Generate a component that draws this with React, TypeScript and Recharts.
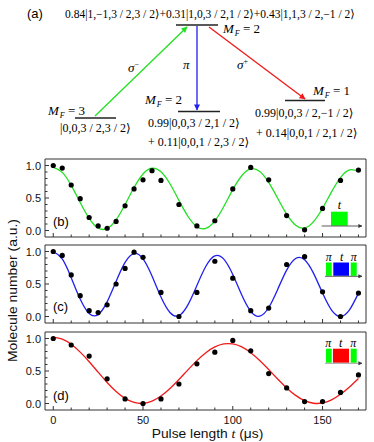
import React from "react";
import { ComposedChart, Line, Scatter, XAxis, YAxis, ReferenceArea } from "recharts";

const fitTimes = [0, 5, 10, 15, 20, 25, 30, 35, 40, 45, 50, 55, 60, 65, 70, 75, 80, 85, 90, 95, 100, 105, 110, 115, 120, 125, 130, 135, 140, 145, 150, 155, 160, 165, 170];
const fitB = [0.97, 0.894, 0.694, 0.431, 0.187, 0.038, 0.03, 0.164, 0.4, 0.661, 0.87, 0.959, 0.903, 0.719, 0.464, 0.219, 0.058, 0.032, 0.148, 0.37, 0.628, 0.842, 0.947, 0.909, 0.741, 0.496, 0.251, 0.08, 0.038, 0.136, 0.342, 0.595, 0.814, 0.932, 0.912];
const fitC = [1.0, 0.885, 0.597, 0.268, 0.046, 0.029, 0.225, 0.54, 0.833, 0.969, 0.886, 0.623, 0.299, 0.062, 0.014, 0.179, 0.477, 0.773, 0.934, 0.882, 0.646, 0.33, 0.079, 0.004, 0.138, 0.417, 0.714, 0.893, 0.874, 0.664, 0.36, 0.099, 0.0, 0.102, 0.36];
const fitD = [1.02, 0.989, 0.91, 0.79, 0.643, 0.482, 0.324, 0.185, 0.079, 0.016, 0.001, 0.035, 0.114, 0.23, 0.369, 0.518, 0.66, 0.782, 0.87, 0.917, 0.916, 0.87, 0.782, 0.662, 0.522, 0.376, 0.239, 0.125, 0.044, 0.004, 0.008, 0.056, 0.141, 0.254, 0.384];

// measured points
const timesB = [0, 5, 10, 15, 20, 25, 30, 35, 40, 45, 50, 55, 60, 70, 80, 90, 100, 110, 120, 130, 140, 150, 160, 170];
const pointsB = [1.0, 0.96, 0.7, 0.49, 0.2, 0.07, 0.035, 0.14, 0.38, 0.64, 0.78, 0.92, 0.77, 0.4, 0.07, 0.15, 0.64, 0.97, 0.78, 0.23, 0.01, 0.34, 0.77, 0.93];
const timesC = [0, 5, 10, 15, 20, 25, 30, 35, 40, 45, 50, 60, 70, 80, 90, 100, 110, 120, 130, 140, 150, 160, 170];
const pointsC = [1.0, 0.94, 0.64, 0.32, 0.09, 0.06, 0.18, 0.5, 0.74, 0.99, 0.91, 0.37, 0.0, 0.37, 0.85, 0.59, 0.09, 0.13, 0.8, 0.92, 0.38, 0.0, 0.36];
const timesD = [0, 10, 20, 30, 40, 50, 60, 70, 80, 90, 100, 110, 120, 130, 140, 150, 160, 170];
const pointsD = [1.0, 0.9, 0.73, 0.38, 0.07, 0.0, 0.07, 0.3, 0.61, 0.79, 0.97, 0.81, 0.46, 0.24, 0.03, 0.03, 0.17, 0.44];

const xTicks = [0, 10, 20, 30, 40, 50, 60, 70, 80, 90, 100, 110, 120, 130, 140, 150, 160, 170];
const yTicks = [0, 0.1, 0.2, 0.3, 0.4, 0.5, 0.6, 0.7, 0.8, 0.9, 1.0];
const X_DOMAIN: [number, number] = [-4.6, 174.2];
const Y_DOMAIN: [number, number] = [-0.1, 1.1];

const SANS = "Liberation Sans, Arial, sans-serif";
const SERIF = "Liberation Serif, Times New Roman, DejaVu Serif, serif";
const AXIS = "#333";

const XTick = (props: any) => {
  const { x, y, payload, showLabel } = props;
  const major = payload.value % 50 === 0;
  return (
    <g>
      <line x1={x} x2={x} y1={y} y2={y - (major ? 4 : 2.5)} stroke={AXIS} strokeWidth={1} />
      {showLabel && major && (
        <text x={x} y={y + 13.5} textAnchor="middle" fontSize={11} fontFamily={SANS} fill="#111">
          {payload.value}
        </text>
      )}
    </g>
  );
};

const YTick = (props: any) => {
  const { x, y, payload } = props;
  const v = payload.value;
  const major = Math.abs(v * 2 - Math.round(v * 2)) < 1e-6;
  return (
    <g>
      <line x1={x} x2={x + (major ? 4 : 2.5)} y1={y} y2={y} stroke={AXIS} strokeWidth={1} />
      {major && (
        <text x={x - 4} y={y + 4} textAnchor="end" fontSize={11} fontFamily={SANS} fill="#111">
          {v.toFixed(1)}
        </text>
      )}
    </g>
  );
};

const Dot = (p: any) => <circle cx={p.cx} cy={p.cy} r={2.6} fill="#000" />;

function Panel({ top, fit, times, points, color, bottom }: any) {
  const curve = fitTimes.map((t, i) => ({ t, y: fit[i] }));
  const dots = times.map((t: number, i: number) => ({ t, y: points[i] }));
  const h = bottom ? 112 : 86;
  return (
    <div style={{ position: "absolute", left: 0, top, width: 374, height: h }}>
      <ComposedChart width={374} height={h} data={curve} margin={{ top: 4, right: 8, bottom: 0, left: 0 }}>
        <XAxis
          type="number"
          dataKey="t"
          domain={X_DOMAIN}
          ticks={xTicks}
          interval={0}
          allowDataOverflow
          height={bottom ? 30 : 4}
          tickSize={0}
          tickMargin={0}
          axisLine={false}
          tickLine={false}
          tick={<XTick showLabel={bottom} />}
        />
        <YAxis
          type="number"
          dataKey="y"
          domain={Y_DOMAIN}
          ticks={yTicks}
          interval={0}
          allowDataOverflow
          width={45}
          tickSize={0}
          tickMargin={0}
          axisLine={false}
          tickLine={false}
          tick={<YTick />}
        />
        <ReferenceArea x1={X_DOMAIN[0]} x2={X_DOMAIN[1]} y1={Y_DOMAIN[0]} y2={Y_DOMAIN[1]} fill="none" stroke={AXIS} strokeWidth={1} ifOverflow="visible" />
        <Line type="natural" dataKey="y" stroke={color} strokeWidth={1.3} dot={false} isAnimationActive={false} />
        <Scatter data={dots} dataKey="y" shape={Dot} isAnimationActive={false} />
      </ComposedChart>
    </div>
  );
}

const MF = ({ x, y, n }: { x: number; y: number; n: number }) => (
  <text x={x} y={y} fontFamily={SERIF} fontSize={13} fill="#000">
    <tspan fontStyle="italic">M</tspan>
    <tspan fontStyle="italic" fontSize={8} dy={3} dx={1}>F</tspan>
    <tspan dy={-3}> = {n}</tspan>
  </text>
);

const Ket = ({ x, y, size = 12, children }: any) => (
  <text x={x} y={y} fontFamily={SERIF} fontSize={size} fill="#000">
    {children}
  </text>
);

function Overlay() {
  return (
    <svg width={374} height={442} style={{ position: "absolute", left: 0, top: 0, pointerEvents: "none" }}>
      <defs>
        <marker id="hG" viewBox="0 0 10 10" refX="9" refY="5" markerWidth="7" markerHeight="6" markerUnits="userSpaceOnUse" orient="auto">
          <path d="M0,0 L10,5 L0,10 z" fill="#22e022" />
        </marker>
        <marker id="hB" viewBox="0 0 10 10" refX="9" refY="5" markerWidth="7" markerHeight="6" markerUnits="userSpaceOnUse" orient="auto">
          <path d="M0,0 L10,5 L0,10 z" fill="#2020f0" />
        </marker>
        <marker id="hR" viewBox="0 0 10 10" refX="9" refY="5" markerWidth="7" markerHeight="6" markerUnits="userSpaceOnUse" orient="auto">
          <path d="M0,0 L10,5 L0,10 z" fill="#f01a1a" />
        </marker>
        <marker id="hK" viewBox="0 0 10 10" refX="9" refY="5" markerWidth="4" markerHeight="4" markerUnits="userSpaceOnUse" orient="auto">
          <path d="M0,0 L10,5 L0,10 z" fill="#333" />
        </marker>
      </defs>

      {/* (a) level diagram */}
      <text x={27} y={18} fontFamily={SANS} fontSize={13} fill="#000">(a)</text>
      <Ket x={65} y={17.5} size={11.5}>0.84|1,−1,3 / 2,3 / 2⟩+0.31|1,0,3 / 2,1 / 2⟩+0.43|1,1,3 / 2,−1 / 2⟩</Ket>
      <line x1={176} x2={218} y1={25} y2={25} stroke="#222" strokeWidth={1.5} />
      <MF x={223} y={33} n={2} />

      <line x1={95} y1={116} x2={187} y2={27} stroke="#22e022" strokeWidth={1.3} markerEnd="url(#hG)" />
      <line x1={197} y1={26} x2={197} y2={110} stroke="#2020f0" strokeWidth={1.3} markerEnd="url(#hB)" />
      <line x1={209} y1={27} x2={305} y2={99} stroke="#f01a1a" strokeWidth={1.3} markerEnd="url(#hR)" />

      <text x={128} y={72} fontFamily={SERIF} fontSize={13} fontStyle="italic">
        σ<tspan fontSize={8} dy={-5} fontStyle="normal">−</tspan>
      </text>
      <text x={183} y={69} fontFamily={SERIF} fontSize={13} fontStyle="italic">π</text>
      <text x={237} y={69} fontFamily={SERIF} fontSize={13} fontStyle="italic">
        σ<tspan fontSize={8} dy={-5} fontStyle="normal">+</tspan>
      </text>

      <line x1={75} x2={116} y1={118} y2={118} stroke="#222" strokeWidth={1.5} />
      <MF x={48} y={114.5} n={3} />
      <Ket x={60} y={132}>|0,0,3 / 2,3 / 2⟩</Ket>

      <line x1={178} x2={220} y1={111.5} y2={111.5} stroke="#222" strokeWidth={1.5} />
      <MF x={145} y={104} n={2} />
      <Ket x={148} y={126.5}>0.99|0,0,3 / 2,1 / 2⟩</Ket>
      <Ket x={148} y={145.5}>+ 0.11|0,0,1 / 2,3 / 2⟩</Ket>

      <line x1={285} x2={325} y1={100.5} y2={100.5} stroke="#222" strokeWidth={1.5} />
      <MF x={313} y={95} n={1} />
      <Ket x={255} y={117}>0.99|0,0,3 / 2,−1 / 2⟩</Ket>
      <Ket x={256} y={136.5}>+ 0.14|0,0,1 / 2,1 / 2⟩</Ket>

      {/* panel tags */}
      <text x={53} y={226} fontFamily={SANS} fontSize={13}>(b)</text>
      <text x={53} y={311} fontFamily={SANS} fontSize={13}>(c)</text>
      <text x={53} y={399.5} fontFamily={SANS} fontSize={13}>(d)</text>

      {/* pulse sequence insets */}
      <text x={339.3} y={209} textAnchor="middle" fontFamily={SERIF} fontSize={12} fontStyle="italic">t</text>
      <rect x={331} y={211.7} width={16.7} height={14} fill="#00ff00" />
      <line x1={321.7} x2={362} y1={226} y2={226} stroke="#333" strokeWidth={0.8} markerEnd="url(#hK)" />

      <text x={328.7} y={261} textAnchor="middle" fontFamily={SERIF} fontSize={12} fontStyle="italic">π</text>
      <text x={341.7} y={261} textAnchor="middle" fontFamily={SERIF} fontSize={12} fontStyle="italic">t</text>
      <text x={353.7} y={261} textAnchor="middle" fontFamily={SERIF} fontSize={12} fontStyle="italic">π</text>
      <rect x={326} y={262.5} width={5.7} height={13.3} fill="#00ff00" />
      <rect x={333.3} y={262.5} width={15.7} height={13.3} fill="#0000ff" />
      <rect x={350.7} y={262.5} width={6} height={13.3} fill="#00ff00" />
      <line x1={325} x2={362} y1={276.3} y2={276.3} stroke="#333" strokeWidth={0.8} markerEnd="url(#hK)" />

      <text x={328.3} y={347} textAnchor="middle" fontFamily={SERIF} fontSize={12} fontStyle="italic">π</text>
      <text x={340.7} y={347} textAnchor="middle" fontFamily={SERIF} fontSize={12} fontStyle="italic">t</text>
      <text x={353.3} y={347} textAnchor="middle" fontFamily={SERIF} fontSize={12} fontStyle="italic">π</text>
      <rect x={326} y={348.7} width={5.7} height={14} fill="#00ff00" />
      <rect x={333} y={348.7} width={16} height={14} fill="#ff0000" />
      <rect x={350.7} y={348.7} width={6} height={14} fill="#00ff00" />
      <line x1={325} x2={362} y1={363.3} y2={363.3} stroke="#888" strokeWidth={0.8} markerEnd="url(#hK)" />

      {/* axis titles */}
      <text
        x={0}
        y={0}
        transform="translate(16.5 290.5) rotate(-90)"
        textAnchor="middle"
        fontFamily={SANS}
        fontSize={12.5}
        fill="#111"
        textLength={143}
        lengthAdjust="spacingAndGlyphs"
      >
        Molecule number (a.u.)
      </text>
      <text x={151.7} y={438} fontFamily={SANS} fontSize={12.5} fill="#111" textLength={111.6} lengthAdjust="spacingAndGlyphs">
        Pulse length <tspan fontFamily={SERIF} fontStyle="italic">t</tspan> (μs)
      </text>
    </svg>
  );
}

export default function App() {
  return (
    <div style={{ position: "absolute", left: 0, top: 0, width: 374, height: 442, background: "#fff", overflow: "hidden" }}>
      <Panel top={154.5} fit={fitB} times={timesB} points={pointsB} color="#22e022" />
      <Panel top={241.2} fit={fitC} times={timesC} points={pointsC} color="#2020f0" />
      <Panel top={327.7} fit={fitD} times={timesD} points={pointsD} color="#f01a1a" bottom />
      <Overlay />
    </div>
  );
}
